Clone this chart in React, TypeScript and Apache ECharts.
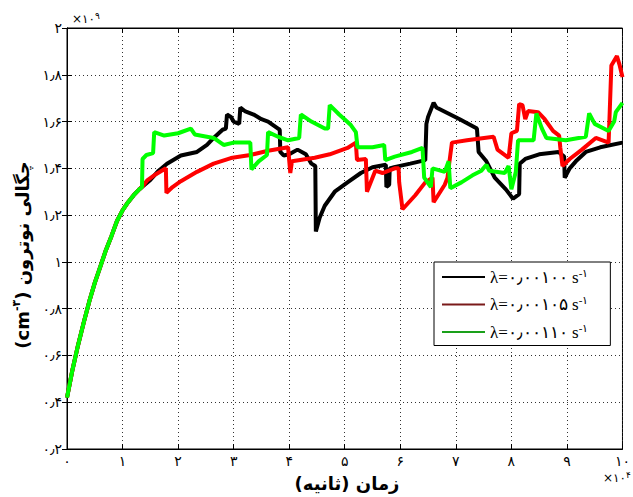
import React, { useEffect, useRef } from "react";
import * as echarts from "echarts";

const xTickLabels = ["۰", "۱", "۲", "۳", "۴", "۵", "۶", "۷", "۸", "۹", "۱۰"];
const yTickLabels = ["۰٫۲", "۰٫۴", "۰٫۶", "۰٫۸", "۱", "۱٫۲", "۱٫۴", "۱٫۶", "۱٫۸", "۲"];
const seriesNames = ["λ=۰٫۰۰۱۰۰", "λ=۰٫۰۰۱۰۵", "λ=۰٫۰۰۱۱۰"];
const seriesColors = ["#000000", "#ff0000", "#00ff00"];
const legendColors = ["#000000", "#7a1a1a", "#1aa01a"];

// time in 10^4 s, density in 10^9 cm^-3
const riseData = [
  [0, 0.42], [0.05, 0.48], [0.1, 0.54], [0.2, 0.645], [0.3, 0.74], [0.4, 0.83],
  [0.5, 0.91], [0.6, 0.98], [0.7, 1.05], [0.8, 1.11], [0.9, 1.175], [1.0, 1.22],
  [1.1, 1.255], [1.2, 1.285], [1.3, 1.31], [1.35, 1.32],
];

const blackTail = [
  [1.5, 1.35], [1.65, 1.39], [1.8, 1.42], [2.05, 1.455], [2.34, 1.47], [2.52, 1.5],
  [2.64, 1.53], [2.8, 1.565], [2.86, 1.57], [2.88, 1.63], [2.95, 1.62], [3.0, 1.6],
  [3.1, 1.59], [3.12, 1.66], [3.2, 1.645], [3.36, 1.63], [3.5, 1.61], [3.62, 1.6],
  [3.8, 1.57], [3.83, 1.565], [3.84, 1.47], [3.9, 1.455], [4.0, 1.46], [4.15, 1.48],
  [4.3, 1.46], [4.4, 1.42], [4.47, 1.41], [4.48, 1.13], [4.55, 1.19], [4.64, 1.24],
  [4.82, 1.3], [5.05, 1.34], [5.29, 1.38], [5.5, 1.405], [5.74, 1.415], [5.75, 1.32],
  [5.8, 1.33], [5.81, 1.4], [5.89, 1.405], [6.18, 1.42], [6.45, 1.435], [6.47, 1.59],
  [6.5, 1.62], [6.6, 1.68], [6.65, 1.66], [7.07, 1.61], [7.38, 1.57], [7.41, 1.47],
  [7.55, 1.43], [7.7, 1.36], [7.9, 1.31], [8.03, 1.27], [8.14, 1.29], [8.15, 1.42],
  [8.25, 1.44], [8.5, 1.46], [8.85, 1.47], [8.95, 1.45], [8.96, 1.36], [9.05, 1.4],
  [9.16, 1.43], [9.34, 1.47], [9.6, 1.49], [10, 1.51],
];

const redTail = [
  [1.45, 1.35], [1.6, 1.375], [1.78, 1.4], [1.79, 1.295], [1.9, 1.32], [2.05, 1.345],
  [2.34, 1.385], [2.64, 1.42], [2.95, 1.444], [3.3, 1.457], [3.62, 1.475], [3.98, 1.49],
  [4.02, 1.38], [4.05, 1.43], [4.46, 1.445], [4.73, 1.46], [5.05, 1.487], [5.2, 1.51],
  [5.22, 1.436], [5.38, 1.44], [5.4, 1.3], [5.55, 1.39], [5.68, 1.38], [5.9, 1.4],
  [5.97, 1.4], [5.98, 1.34], [6.04, 1.225], [6.27, 1.285], [6.45, 1.34], [6.58, 1.36],
  [6.6, 1.255], [6.8, 1.33], [6.85, 1.36], [6.88, 1.42], [6.93, 1.51], [7.2, 1.52],
  [7.68, 1.535], [7.75, 1.48], [7.95, 1.445], [8.0, 1.55], [8.1, 1.56], [8.14, 1.675],
  [8.2, 1.67], [8.25, 1.61], [8.3, 1.645], [8.48, 1.64], [8.6, 1.61], [8.75, 1.56],
  [8.86, 1.54], [8.88, 1.49], [8.92, 1.41], [9.05, 1.44], [9.27, 1.48], [9.52, 1.53],
  [9.75, 1.51], [9.77, 1.64], [9.8, 1.84], [9.9, 1.88], [9.95, 1.84], [10, 1.79],
];

const greenTail = [
  [1.36, 1.44], [1.43, 1.457], [1.55, 1.465], [1.57, 1.555], [1.75, 1.54], [2.0, 1.55],
  [2.23, 1.57], [2.3, 1.545], [2.64, 1.53], [2.82, 1.5], [3.0, 1.51], [3.3, 1.51],
  [3.32, 1.395], [3.45, 1.43], [3.6, 1.457], [3.62, 1.555], [3.8, 1.535], [3.98, 1.52],
  [4.18, 1.53], [4.21, 1.63], [4.4, 1.6], [4.64, 1.57], [4.7, 1.57], [4.73, 1.67],
  [4.9, 1.63], [5.11, 1.585], [5.2, 1.555], [5.23, 1.49], [5.5, 1.49], [5.71, 1.5],
  [5.73, 1.435], [5.9, 1.45], [6.21, 1.47], [6.4, 1.487], [6.43, 1.36], [6.55, 1.32],
  [6.58, 1.4], [6.8, 1.385], [6.87, 1.43], [6.9, 1.315], [7.1, 1.34], [7.3, 1.37],
  [7.46, 1.39], [7.55, 1.415], [7.6, 1.39], [7.88, 1.38], [7.95, 1.41], [8.0, 1.31],
  [8.08, 1.385], [8.12, 1.52], [8.4, 1.52], [8.45, 1.635], [8.55, 1.57], [8.63, 1.53],
  [8.98, 1.52], [9.34, 1.535], [9.4, 1.635], [9.5, 1.59], [9.75, 1.56], [9.85, 1.6],
  [9.88, 1.64], [10, 1.68],
];

const seriesTails = [blackTail, redTail, greenTail];

const SERIF = "'Liberation Serif', 'DejaVu Serif', serif";
const FA = "'DejaVu Sans', 'Noto Sans', sans-serif";

export default function App() {
  const ref = useRef<HTMLDivElement>(null);
  useEffect(() => {
    if (!ref.current) return;
    const chart = echarts.init(ref.current, undefined, { renderer: "svg" });
    const gridLeft = 67, gridTop = 28, gridW = 560, gridH = 421;
    const commonAxis = {
      axisLine: { show: true, lineStyle: { color: "#000", width: 1 } },
      axisTick: { show: true, inside: true, length: 5, lineStyle: { color: "#000" } },
    };
    const labelFont = { fontSize: 18, fontWeight: "bold" as const, fontFamily: FA, fill: "#000" };
    chart.setOption({
      animation: false,
      backgroundColor: "#fff",
      grid: { left: gridLeft, top: gridTop, width: gridW, height: gridH, show: true, borderColor: "#000", borderWidth: 1 },
      xAxis: [
        {
          type: "value", min: 0, max: 10, interval: 1, position: "bottom",
          ...commonAxis,
          axisLabel: { color: "#000", fontSize: 14, fontFamily: FA, margin: 5, formatter: (v: number) => xTickLabels[Math.round(v)] ?? "" },
          splitLine: { show: true, lineStyle: { color: "#333", type: [1, 3], width: 1 } },
        },
        {
          type: "value", min: 0, max: 10, interval: 1, position: "top",
          ...commonAxis, axisLabel: { show: false }, splitLine: { show: false },
        },
      ],
      yAxis: [
        {
          type: "value", min: 0.2, max: 2, interval: 0.2, position: "left",
          ...commonAxis,
          axisLabel: { color: "#000", fontSize: 14, fontFamily: FA, margin: 5, formatter: (v: number) => yTickLabels[Math.round((v - 0.2) / 0.2)] ?? "" },
          splitLine: { show: true, lineStyle: { color: "#333", type: [1, 3], width: 1 } },
        },
        {
          type: "value", min: 0.2, max: 2, interval: 0.2, position: "right",
          ...commonAxis, axisLabel: { show: false }, splitLine: { show: false },
        },
      ],
      legend: {
        orient: "vertical", left: 434, top: 262,
        padding: [5, 22, 5, 8], itemGap: 9, itemWidth: 43, itemHeight: 2,
        icon: "rect",
        backgroundColor: "#fff", borderColor: "#000", borderWidth: 1,
        data: seriesNames.map((n, i) => ({
          name: n,
          icon: "rect",
          itemStyle: { color: legendColors[i] },
        })),
        formatter: (name: string) => `{a|${name} s}{s|-۱}`,
        textStyle: {
          color: "#000",
          rich: {
            a: { fontSize: 17, fontFamily: SERIF, color: "#000", lineHeight: 20 },
            s: { fontSize: 11, fontFamily: SERIF, color: "#000", verticalAlign: "top", lineHeight: 20, padding: [0, 0, 7, 0] },
          },
        },
      },
      graphic: [
        {
          type: "text", left: 72, top: 11,
          style: {
            text: "{a|×۱۰}{s|۹}",
            rich: {
              a: { fontSize: 12, fontFamily: FA, fill: "#000", lineHeight: 15 },
              s: { fontSize: 9, fontFamily: FA, fill: "#000", verticalAlign: "top", padding: [0, 0, 6, 0] },
            },
          },
        },
        {
          type: "text", left: 603, top: 470,
          style: {
            text: "{a|×۱۰}{s|۴}",
            rich: {
              a: { fontSize: 12, fontFamily: FA, fill: "#000", lineHeight: 15 },
              s: { fontSize: 9, fontFamily: FA, fill: "#000", verticalAlign: "top", padding: [0, 0, 6, 0] },
            },
          },
        },
        {
          type: "text", x: 347, y: 483,
          style: { text: "\u200Fزمان (ثانیه)\u200F", align: "center", verticalAlign: "middle", ...labelFont },
        },
        {
          type: "text", x: 22, y: 255, rotation: Math.PI / 2,
          style: {
            text: "{a|(cm}{s|-۳}{b|) چگالی نوترون}",
            align: "center", verticalAlign: "middle",
            rich: {
              a: { ...labelFont, lineHeight: 22 },
              b: { ...labelFont, lineHeight: 22 },
              s: { fontSize: 11, fontWeight: "bold", fontFamily: FA, fill: "#000", verticalAlign: "top", lineHeight: 22, padding: [0, 0, 8, 0] },
            },
          },
        },
      ],
      series: seriesNames.map((n, i) => ({
        name: n,
        type: "line",
        xAxisIndex: 0,
        yAxisIndex: 0,
        symbol: "none",
        showSymbol: false,
        lineStyle: { color: seriesColors[i], width: 4 },
        itemStyle: { color: seriesColors[i] },
        data: [...riseData, ...seriesTails[i]],
      })),
    });
    return () => chart.dispose();
  }, []);
  return <div ref={ref} style={{ position: "fixed", left: 0, top: 0, width: 633, height: 497 }} />;
}
